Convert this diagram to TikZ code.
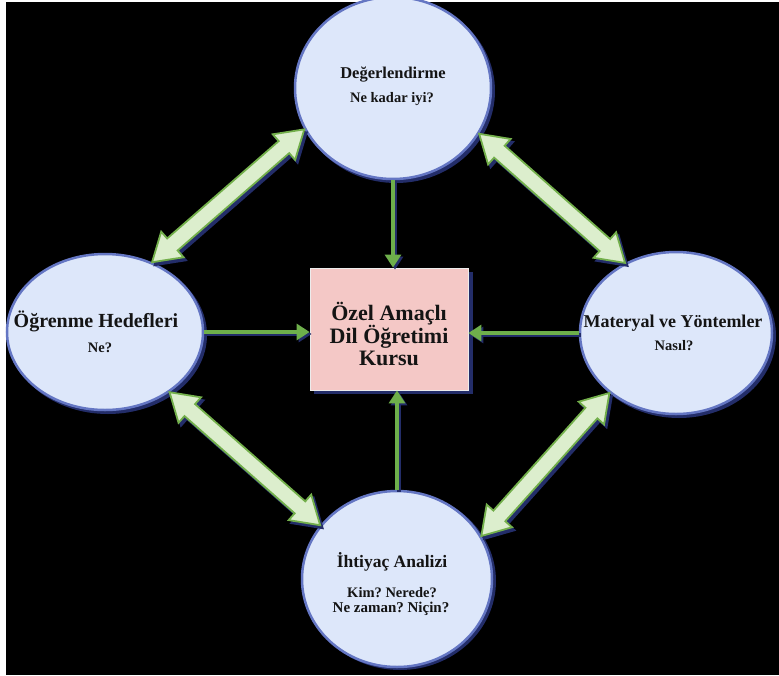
\documentclass[tikz,border=0pt]{standalone}
\usepackage{fontspec}
\setmainfont{Liberation Serif}
\usetikzlibrary{arrows.meta,calc,shapes.geometric}
\definecolor{ellfill}{RGB}{221,231,250}
\definecolor{ellrim}{RGB}{100,118,195}
\definecolor{shadowblue}{RGB}{35,45,105}
\definecolor{boxfill}{RGB}{244,200,198}
\definecolor{arrowfill}{RGB}{220,238,205}
\definecolor{arrowline}{RGB}{115,175,75}
\definecolor{thingreen}{RGB}{110,175,75}
\definecolor{txt}{RGB}{20,20,20}
\newcommand\fatpath[2]{(#1) -- ($(#1)!27pt!(#2)!17pt!90:(#2)$) -- ($(#1)!27pt!(#2)!8pt!90:(#2)$) -- ($(#2)!27pt!(#1)!8pt!-90:(#1)$) -- ($(#2)!27pt!(#1)!17pt!-90:(#1)$) -- (#2) -- ($(#2)!27pt!(#1)!17pt!90:(#1)$) -- ($(#2)!27pt!(#1)!8pt!90:(#1)$) -- ($(#1)!27pt!(#2)!8pt!-90:(#2)$) -- ($(#1)!27pt!(#2)!17pt!-90:(#2)$) -- cycle}
\newcommand\fatarrow[2]{%
  \path[fatshadow] \fatpath{#1}{#2};
  \path[fatbody] \fatpath{#1}{#2};}
\begin{document}
\frenchspacing
\begin{tikzpicture}[x=1pt,y=-1pt,
  bubble/.style={ellipse,fill=ellfill,draw=ellrim,line width=2.5pt,inner sep=0pt},
  bubshadow/.style={ellipse,fill=shadowblue,draw=none,inner sep=0pt},
  centrebox/.style={rectangle,fill=boxfill,draw=white!85!gray,line width=0.8pt,minimum width=158pt,minimum height=122pt,inner sep=0pt},
  fatbody/.style={fill=arrowfill,draw=arrowline,line width=1.8pt,line join=miter},
  fatshadow/.style={fill=shadowblue,draw=shadowblue,line width=1.8pt,transform canvas={shift={(2.5pt,-3pt)}}},
  thinarrow/.style={draw=thingreen,line width=3.2pt,-{Triangle[length=13pt,width=16pt]}},
  thinshadow/.style={draw=shadowblue,line width=3.2pt,-{Triangle[length=13pt,width=16pt]},transform canvas={shift={(2pt,-2pt)}}},
  head/.style={anchor=base,text=txt,font=\fontsize{16.5}{18}\selectfont\bfseries},
  sub/.style={anchor=base,text=txt,font=\fontsize{14.5}{16}\selectfont\bfseries,align=center},
  centretext/.style={anchor=base,text=txt,font=\fontsize{22}{23}\selectfont\bfseries,align=center}]
\useasboundingbox (0,0) rectangle (779,675);
\fill[white] (0,0) rectangle (779,675);
\fill[black] (6,2) rectangle (779,675);
% shadows
\node[bubshadow,minimum width=198pt,minimum height=184pt] at (396,91) {};
\node[bubshadow,minimum width=198pt,minimum height=158pt] at (108,335) {};
\node[bubshadow,minimum width=194pt,minimum height=164pt] at (679,336) {};
\node[bubshadow,minimum width=192pt,minimum height=178pt] at (400,581) {};
\fill[shadowblue] (314,272) rectangle (473,394);
% bubbles
\node[bubble,minimum width=196pt,minimum height=182pt] (top) at (393,88) {};
\node[bubble,minimum width=196pt,minimum height=156pt] (left) at (105,332) {};
\node[bubble,minimum width=192pt,minimum height=162pt] (right) at (676,333) {};
\node[bubble,minimum width=190pt,minimum height=176pt] (bottom) at (397,579) {};
\node[centrebox] (box) at (389,329) {};
% texts
\node[head] (t1) at (393,78) {Değerlendirme};
\node[sub] (t2) at (392,102) {Ne kadar iyi?};
\node[head,font=\fontsize{20}{22}\selectfont\bfseries] (l1) at (96,327) {Öğrenme Hedefleri};
\node[sub] (l2) at (100,352) {Ne?};
\node[head,font=\fontsize{18}{20}\selectfont\bfseries] (r1) at (673,327) {Materyal ve Yöntemler};
\node[sub] (r2) at (674,350) {Nasıl?};
\node[centretext] (c1) at (389,320) {Özel Amaçlı};
\node[centretext] (c2) at (389,343) {Dil Öğretimi};
\node[centretext] (c3) at (389,365) {Kursu};
\node[head,font=\fontsize{17.5}{19}\selectfont\bfseries] (b1) at (392,567) {İhtiyaç Analizi};
\node[sub] (b2) at (392,597) {Kim? Nerede?};
\node[sub,font=\fontsize{15}{16}\selectfont\bfseries] (b3) at (391,612) {Ne zaman? Niçin?};
% thin arrows
\draw[thinshadow] (top.south) -- (top.south |- box.north);
\draw[thinarrow] (top.south) -- (top.south |- box.north);
\draw[thinshadow] (bottom.north) -- (bottom.north |- box.south);
\draw[thinarrow] (bottom.north) -- (bottom.north |- box.south);
\draw[thinshadow] (left.east) -- (left.east -| box.west);
\draw[thinarrow] (left.east) -- (left.east -| box.west);
\draw[thinshadow] (right.west) -- (right.west -| box.east);
\draw[thinarrow] (right.west) -- (right.west -| box.east);
% fat arrows
\fatarrow{left.56}{top.205}
\fatarrow{top.332}{right.126}
\fatarrow{left.317}{bottom.145}
\fatarrow{bottom.27}{right.222}
\end{tikzpicture}
\end{document}
